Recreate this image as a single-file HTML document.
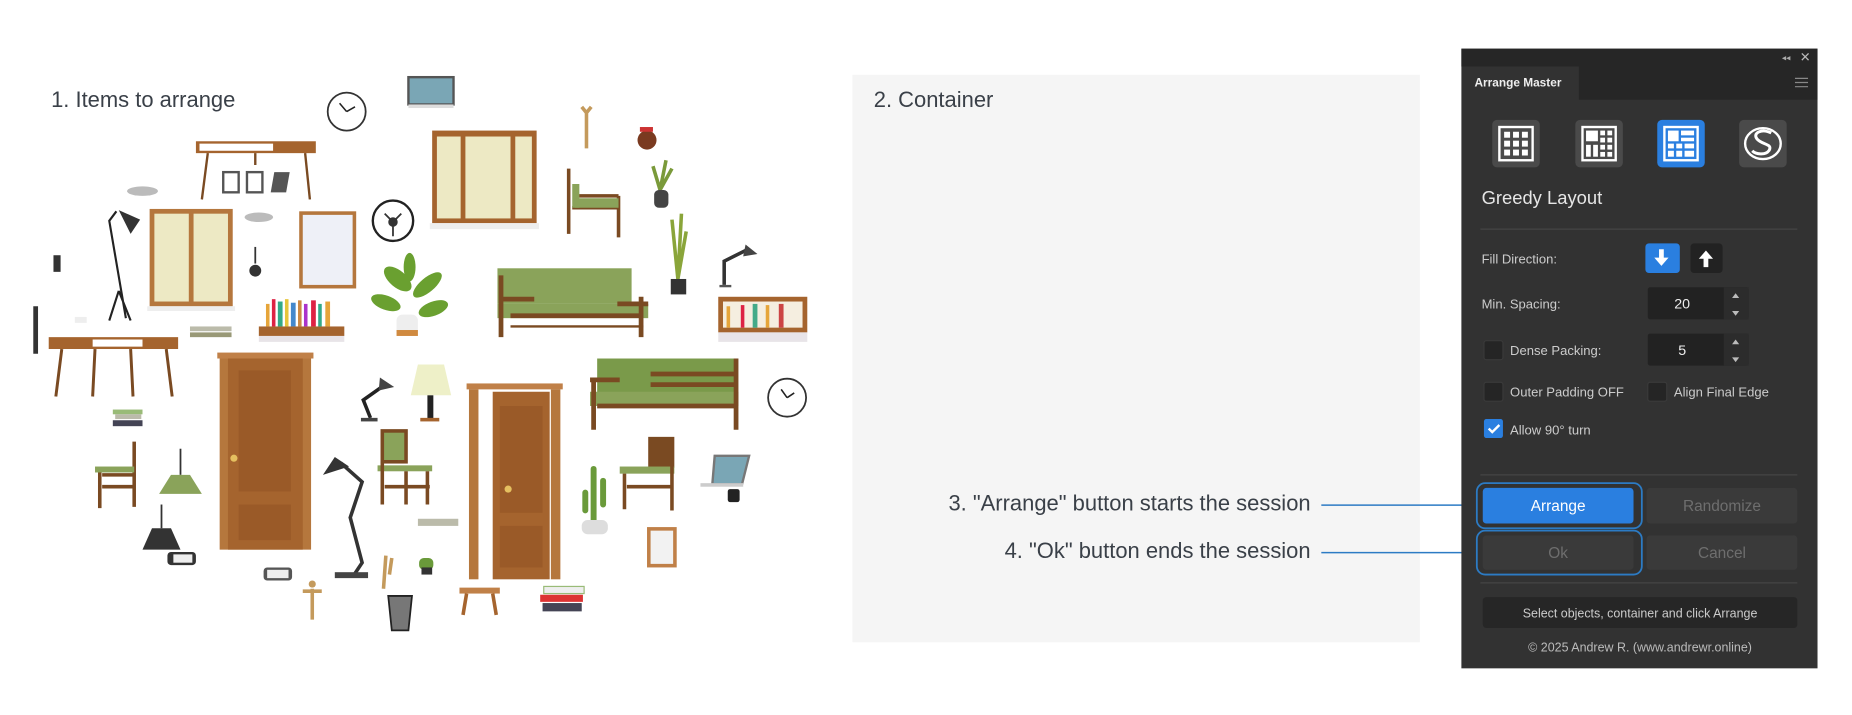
<!DOCTYPE html>
<html><head><meta charset="utf-8"><style>
html,body{margin:0;padding:0;background:#fff;width:1852px;height:715px;overflow:hidden}
svg{display:block}
text{font-family:"Liberation Sans",sans-serif}
</style></head><body>
<svg width="1852" height="715" viewBox="0 0 1560 602.3" xmlns="http://www.w3.org/2000/svg">
<rect width="1560" height="603" fill="#fff"/>
<!-- container -->
<rect x="718" y="63" width="478" height="478" fill="#f5f5f5"/>
<text x="43" y="90" font-size="18.5" fill="#3a4048">1. Items to arrange</text>
<text x="736" y="90" font-size="18.5" fill="#3a4048">2. Container</text>
<text x="1104" y="430" font-size="18.5" fill="#3a4048" text-anchor="end">3. "Arrange" button starts the session</text>
<text x="1104" y="470" font-size="18.5" fill="#3a4048" text-anchor="end">4. "Ok" button ends the session</text>
<line x1="1113" y1="425.5" x2="1244" y2="425.5" stroke="#2c7bc4" stroke-width="1.3"/>
<line x1="1113" y1="465.5" x2="1244" y2="465.5" stroke="#2c7bc4" stroke-width="1.3"/>

<!-- furniture -->
<g>
<circle cx="292" cy="94" r="16" fill="#fff" stroke="#333" stroke-width="1.5"/><path d="M292 94 l-6 -7 M292 94 l7 -4" stroke="#222" stroke-width="1.3"/>
<rect x="344" y="65" width="38" height="23" fill="#7aa6b5" stroke="#555" stroke-width="2"/><rect x="344" y="88" width="38" height="3" fill="#ddd"/>
<rect x="165" y="119" width="101" height="10" fill="#a5642e"/><rect x="168" y="121" width="62" height="6" fill="#fff"/>
<path d="M175 129 l-5 39 M257 129 l4 39 M215 129 v10" stroke="#7a4a22" stroke-width="2"/>
<rect x="188" y="145" width="13" height="17" fill="#fff" stroke="#555" stroke-width="2"/><rect x="208" y="145" width="13" height="17" fill="#fff" stroke="#555" stroke-width="2"/><path d="M231 145 h13 l-3 17 h-13z" fill="#555"/>
<ellipse cx="120" cy="161" rx="13" ry="4" fill="#bbb"/><ellipse cx="218" cy="183" rx="12" ry="4" fill="#bbb"/>
<path d="M98 178 l-6 8 l14 82 M100 245 l-8 25 M100 245 l10 25" stroke="#222" stroke-width="1.8" fill="none"/><path d="M100 177 l18 8 l-8 12 z" fill="#333"/>
<rect x="126" y="176" width="70" height="82" fill="#b5773d"/><rect x="130" y="180" width="29" height="74" fill="#ede9c4"/><rect x="163" y="180" width="29" height="74" fill="#ede9c4"/><rect x="124" y="258" width="74" height="4" fill="#eee"/>
<path d="M215 208 v14" stroke="#333" stroke-width="1.5"/><circle cx="215" cy="228" r="5" fill="#333"/>
<rect x="252" y="178" width="48" height="65" fill="#b5773d"/><rect x="255" y="181" width="42" height="59" fill="#eef0f7"/>
<circle cx="331" cy="186" r="17" fill="#fff" stroke="#222" stroke-width="2"/><circle cx="331" cy="187" r="4" fill="#333"/><path d="M331 187 l-7 -7 M331 187 l7 -7 M331 187 v12" stroke="#333" stroke-width="1.5"/>
<rect x="364" y="110" width="88" height="78" fill="#a5642e"/><rect x="368" y="115" width="20" height="69" fill="#ede9c4"/><rect x="392" y="115" width="38" height="69" fill="#ede9c4"/><rect x="434" y="115" width="14" height="69" fill="#ede9c4"/><rect x="362" y="188" width="92" height="5" fill="#eee"/>
<path d="M494 95 v30 M490 90 l4 5 l4 -5" stroke="#c49a5c" stroke-width="3" fill="none"/>
<circle cx="545" cy="118" r="8" fill="#7a3a20"/><rect x="539" y="107" width="11" height="4" fill="#c33"/>
<path d="M479 142 v55 M484 165 h37 M521 165 v35 M482 175 h40" stroke="#7a4a22" stroke-width="3" fill="none"/><rect x="482" y="155" width="6" height="20" fill="#8aa35a"/><rect x="484" y="167" width="37" height="8" fill="#8aa35a"/>
<path d="M556 160 l-6 -20 M556 160 l5 -25 M556 160 l10 -18" stroke="#7a9a3a" stroke-width="3"/><rect x="551" y="160" width="12" height="15" rx="4" fill="#444"/>
<path d="M571 235 l-5 -50 M571 235 l3 -55 M571 235 l7 -40" stroke="#8aa53a" stroke-width="3"/><rect x="565" y="235" width="13" height="13" fill="#333"/>
<path d="M610 240 v-20 l20 -10" stroke="#333" stroke-width="3" fill="none"/><path d="M628 206 l10 8 l-12 2z" fill="#444"/><rect x="606" y="240" width="10" height="2" fill="#555"/>
<rect x="605" y="250" width="75" height="30" fill="#a5642e"/><rect x="609" y="254" width="67" height="22" fill="#f5eee0"/><g fill="#e6a53a"><rect x="612" y="258" width="3" height="18"/><rect x="624" y="257" width="3" height="19" fill="#d24"/><rect x="634" y="256" width="4" height="20" fill="#4a8"/><rect x="645" y="257" width="3" height="19"/><rect x="656" y="256" width="4" height="20" fill="#c44"/></g><rect x="605" y="280" width="75" height="8" fill="#e8e4e8"/>
<g fill="#6aa030"><ellipse cx="335" cy="235" rx="14" ry="7" transform="rotate(40 335 235)"/><ellipse cx="360" cy="240" rx="15" ry="6" transform="rotate(-40 360 240)"/><ellipse cx="325" cy="255" rx="13" ry="6" transform="rotate(20 325 255)"/><ellipse cx="365" cy="260" rx="13" ry="6" transform="rotate(-20 365 260)"/><ellipse cx="345" cy="225" rx="5" ry="12"/></g><rect x="334" y="265" width="18" height="18" rx="5" fill="#eee"/><rect x="334" y="278" width="18" height="5" fill="#d08a40"/>
<rect x="419" y="226" width="113" height="30" fill="#8aa35a"/><rect x="419" y="256" width="127" height="12" fill="#8aa35a"/><path d="M422 232 v52 M540 250 v34 M430 266 h110 M420 252 h30 M520 256 h26" stroke="#7a4a22" stroke-width="4" fill="none"/><path d="M430 275 h112" stroke="#7a4a22" stroke-width="2"/>
<rect x="218" y="275" width="72" height="8" fill="#a5642e"/><rect x="218" y="283" width="72" height="5" fill="#e8e4e8"/><g><rect x="224" y="256" width="3" height="19" fill="#e6a53a"/><rect x="229" y="252" width="3" height="23" fill="#d24"/><rect x="234" y="254" width="4" height="21" fill="#3a8"/><rect x="240" y="252" width="3" height="23" fill="#e6c53a"/><rect x="245" y="255" width="4" height="20" fill="#48c"/><rect x="251" y="253" width="3" height="22" fill="#c84"/><rect x="256" y="256" width="3" height="19" fill="#a3c"/><rect x="262" y="253" width="4" height="22" fill="#d24"/><rect x="268" y="256" width="3" height="19" fill="#3a8"/><rect x="274" y="254" width="4" height="21" fill="#e6a53a"/></g>
<rect x="160" y="275" width="35" height="4" fill="#bba"/><rect x="160" y="280" width="35" height="4" fill="#997"/>
<rect x="45" y="215" width="6" height="14" fill="#333"/>
<path d="M30 258 v40" stroke="#333" stroke-width="4"/>
<rect x="63" y="267" width="10" height="5" fill="#eee"/>
<rect x="41" y="284" width="109" height="10" fill="#a5642e"/><rect x="78" y="286" width="42" height="6" fill="#fff"/><path d="M52 294 l-5 40 M80 294 l-2 40 M110 294 l2 40 M140 294 l5 40" stroke="#7a4a22" stroke-width="2.5"/>
<rect x="183" y="297" width="81" height="5" fill="#c08048"/><rect x="185" y="302" width="77" height="161" fill="#b5773d"/><rect x="192" y="302" width="63" height="161" fill="#a5642e"/><rect x="201" y="312" width="44" height="102" fill="#9a5a28"/><rect x="201" y="425" width="44" height="30" fill="#9a5a28"/><circle cx="197" cy="386" r="3" fill="#e5c060"/>
<rect x="393" y="323" width="81" height="5" fill="#c08048"/><rect x="395" y="328" width="8" height="160" fill="#b5773d"/><rect x="464" y="328" width="8" height="160" fill="#b5773d"/><rect x="415" y="330" width="48" height="158" fill="#a5642e"/><rect x="421" y="342" width="36" height="90" fill="#9a5a28"/><rect x="421" y="443" width="36" height="35" fill="#9a5a28"/><circle cx="428" cy="412" r="3" fill="#e5c060"/>
<path d="M312 352 l-6 -15 l17 -12" stroke="#222" stroke-width="3" fill="none"/><path d="M320 318 l12 8 l-13 3z" fill="#444"/><rect x="304" y="352" width="14" height="3" fill="#444"/>
<path d="M352 307 h22 l6 26 h-34z" fill="#eef0c8"/><rect x="360" y="333" width="5" height="20" fill="#222"/><rect x="354" y="352" width="16" height="3" fill="#a5642e"/>
<rect x="503" y="302" width="117" height="40" fill="#7a9a4a"/><rect x="497" y="330" width="125" height="12" fill="#8aa35a"/><path d="M500 320 v42 M620 302 v60 M503 342 h117 M497 320 h25 M548 315 h72 M548 324 h72" stroke="#7a4a22" stroke-width="4" fill="none"/>
<circle cx="663" cy="335" r="16" fill="#fff" stroke="#333" stroke-width="1.5"/><path d="M663 335 l-5 -7 M663 335 l6 -4" stroke="#222" stroke-width="1.3"/>
<rect x="95" y="345" width="25" height="4" fill="#9b7"/><rect x="97" y="349" width="22" height="4" fill="#bba"/><rect x="95" y="354" width="25" height="5" fill="#445"/>
<path d="M84 395 v33 M113 372 v55 M86 410 h27 M86 400 h27" stroke="#7a4a22" stroke-width="3"/><rect x="80" y="393" width="33" height="5" fill="#8aa35a"/>
<path d="M152 378 v22" stroke="#333" stroke-width="1.5"/><path d="M144 400 h16 l10 16 h-36z" fill="#8aa35a"/>
<path d="M136 425 v20" stroke="#333" stroke-width="1.5"/><path d="M128 445 h16 l8 18 h-32z" fill="#333"/>
<rect x="141" y="465" width="24" height="11" rx="3" fill="#333"/><rect x="146" y="467" width="16" height="7" fill="#eee"/>
<rect x="322" y="363" width="20" height="26" fill="#8aa35a" stroke="#7a4a22" stroke-width="3"/><rect x="318" y="392" width="46" height="5" fill="#8aa35a"/><path d="M322 389 v36 M342 397 v28 M360 397 v28 M324 410 h38" stroke="#7a4a22" stroke-width="3"/>
<path d="M287 390 l18 16 l-10 30 l10 38 l-6 9" stroke="#333" stroke-width="3" fill="none"/><path d="M272 400 l10 -15 l12 8z" fill="#333"/><rect x="282" y="482" width="28" height="5" fill="#444"/>
<path d="M500 445 v-50 M493 430 v-15 M508 425 v-20" stroke="#6a9a3a" stroke-width="5" stroke-linecap="round"/><rect x="490" y="438" width="22" height="12" rx="5" fill="#ddd"/>
<rect x="546" y="368" width="22" height="26" fill="#7a4a22"/><rect x="522" y="393" width="46" height="6" fill="#8aa35a"/><path d="M526 399 v30 M566 372 v58 M528 410 h38" stroke="#7a4a22" stroke-width="3"/>
<path d="M602 384 h29 l-6 24 h-25z" fill="#7aa6b5" stroke="#777" stroke-width="2"/><rect x="590" y="407" width="36" height="3" fill="#ccc"/><rect x="613" y="412" width="10" height="11" rx="2" fill="#222"/>
<rect x="545" y="444" width="25" height="34" fill="#c08048"/><rect x="548" y="447" width="19" height="28" fill="#f2f2f2"/>
<rect x="352" y="437" width="34" height="6" fill="#bba"/>
<rect x="222" y="478" width="24" height="11" rx="3" fill="#555"/><rect x="225" y="480" width="18" height="7" fill="#eee"/>
<path d="M263 496 v26 M255 498 h16" stroke="#c49a5c" stroke-width="3"/><circle cx="263" cy="492" r="3" fill="#c49a5c"/>
<path d="M325 468 l-2 28 M330 470 l-2 14" stroke="#c49a5c" stroke-width="3"/>
<rect x="353" y="470" width="12" height="10" rx="4" fill="#6a9a3a"/><rect x="355" y="478" width="9" height="6" fill="#333"/>
<path d="M327 502 h20 l-3 29 h-14z" fill="#777" stroke="#222" stroke-width="1.5"/>
<rect x="387" y="495" width="34" height="5" fill="#c08048"/><path d="M393 500 l-3 18 M415 500 l3 18" stroke="#a5642e" stroke-width="3"/>
<rect x="458" y="494" width="34" height="6" fill="#eee" stroke="#9b7"/><rect x="455" y="501" width="36" height="6" fill="#d33"/><rect x="457" y="508" width="33" height="7" fill="#445"/>
</g>

<!-- panel -->
<rect x="1231" y="41" width="300" height="522" fill="#323232"/>
<rect x="1231" y="41" width="300" height="15" fill="#262626"/>
<rect x="1330" y="56" width="201" height="28" fill="#262626"/>
<text x="1501" y="51" font-size="7" fill="#aaa">◂◂</text>
<text x="1516" y="52" font-size="11" fill="#bbb">✕</text>
<text x="1242" y="73" font-size="10" font-weight="bold" fill="#eee">Arrange Master</text>
<path d="M1512 66 h11 M1512 69.5 h11 M1512 73 h11" stroke="#888" stroke-width="1"/>
<g>
<rect x="1257" y="101" width="40" height="40" rx="4" fill="#4a4a4a"/>
<rect x="1327" y="101" width="40" height="40" rx="4" fill="#4a4a4a"/>
<rect x="1396" y="101" width="40" height="40" rx="4" fill="#2a7fe0"/>
<rect x="1465" y="101" width="40" height="40" rx="4" fill="#4a4a4a"/>
<rect x="1263" y="107" width="28" height="28" fill="none" stroke="#fff" stroke-width="2"/>
<g fill="#fff"><rect x="1267" y="111" width="5" height="5"/><rect x="1274.5" y="111" width="5" height="5"/><rect x="1282" y="111" width="5" height="5"/><rect x="1267" y="118.5" width="5" height="5"/><rect x="1274.5" y="118.5" width="5" height="5"/><rect x="1282" y="118.5" width="5" height="5"/><rect x="1267" y="126" width="5" height="5"/><rect x="1274.5" y="126" width="5" height="5"/><rect x="1282" y="126" width="5" height="5"/></g>
<rect x="1333" y="107" width="28" height="28" fill="none" stroke="#fff" stroke-width="2"/>
<g fill="#fff"><rect x="1336" y="110" width="10" height="9"/><rect x="1348" y="110" width="4" height="4"/><rect x="1354" y="110" width="4" height="4"/><rect x="1348" y="116" width="4" height="4"/><rect x="1354" y="116" width="4" height="4"/><rect x="1336" y="122" width="4" height="10"/><rect x="1342" y="122" width="4" height="10"/><rect x="1348" y="122" width="4" height="4"/><rect x="1354" y="122" width="4" height="4"/><rect x="1348" y="128" width="4" height="4"/><rect x="1354" y="128" width="4" height="4"/></g>
<rect x="1402" y="107" width="28" height="28" fill="none" stroke="#fff" stroke-width="2"/>
<g fill="#fff"><rect x="1405" y="110" width="9" height="9"/><rect x="1416" y="110" width="11" height="4"/><rect x="1416" y="116" width="11" height="3"/><rect x="1405" y="121" width="5" height="4"/><rect x="1412" y="121" width="5" height="4"/><rect x="1419" y="121" width="8" height="4"/><rect x="1405" y="127" width="5" height="5"/><rect x="1412" y="127" width="5" height="5"/><rect x="1419" y="127" width="8" height="5"/></g>
<ellipse cx="1485" cy="121" rx="15" ry="13" fill="none" stroke="#fff" stroke-width="2"/>
<path d="M1492 112 c-8 -4 -16 0 -12 5 c4 5 14 4 10 10 c-3 4 -11 3 -14 0" stroke="#fff" stroke-width="2.5" fill="none"/>
</g>
<text x="1248" y="172" font-size="15.5" fill="#e6e6e6">Greedy Layout</text>
<line x1="1247" y1="193" x2="1514" y2="193" stroke="#444" stroke-width="1"/>
<text x="1248" y="222" font-size="11" fill="#ccc">Fill Direction:</text>
<rect x="1386" y="205" width="29" height="25" rx="3" fill="#2a7fe0"/>
<path d="M1397.5 210 h4 v7 h4 l-6 7 l-6 -7 h4z" fill="#fff"/>
<rect x="1424" y="205" width="27" height="25" rx="3" fill="#222"/>
<path d="M1435 225 h4 v-7 h4 l-6 -7 l-6 7 h4z" fill="#fff"/>
<text x="1248" y="260" font-size="11" fill="#ccc">Min. Spacing:</text>
<rect x="1388" y="242" width="85" height="27" rx="2" fill="#222"/><rect x="1452" y="242" width="21" height="27" fill="#2c2c2c"/>
<text x="1417" y="260" font-size="12" fill="#eee" text-anchor="middle">20</text>
<path d="M1459 251 l3 -4 l3 4z M1459 262 l3 4 l3 -4z" fill="#bbb"/>
<rect x="1250" y="287" width="16" height="16" rx="2" fill="#252525" stroke="#3a3a3a"/>
<text x="1272" y="299" font-size="11" fill="#ccc">Dense Packing:</text>
<rect x="1388" y="281" width="85" height="27" rx="2" fill="#222"/><rect x="1452" y="281" width="21" height="27" fill="#2c2c2c"/>
<text x="1417" y="299" font-size="12" fill="#eee" text-anchor="middle">5</text>
<path d="M1459 290 l3 -4 l3 4z M1459 301 l3 4 l3 -4z" fill="#bbb"/>
<rect x="1250" y="322" width="16" height="16" rx="2" fill="#252525" stroke="#3a3a3a"/>
<text x="1272" y="334" font-size="11" fill="#ccc">Outer Padding OFF</text>
<rect x="1388" y="322" width="16" height="16" rx="2" fill="#252525" stroke="#3a3a3a"/>
<text x="1410" y="334" font-size="11" fill="#ccc">Align Final Edge</text>
<rect x="1250" y="353" width="16" height="16" rx="2" fill="#2a7fe0"/>
<path d="M1254 361 l3 3 l6 -6" stroke="#fff" stroke-width="2" fill="none"/>
<text x="1272" y="366" font-size="11" fill="#ccc">Allow 90° turn</text>
<line x1="1247" y1="400" x2="1514" y2="400" stroke="#444"/>
<rect x="1249" y="411" width="127" height="30" rx="3" fill="#2a7fe0"/>
<text x="1312.5" y="430.5" font-size="13" fill="#fff" text-anchor="middle">Arrange</text>
<rect x="1387" y="411" width="127" height="30" rx="3" fill="#3a3a3a"/>
<text x="1450.5" y="430.5" font-size="13" fill="#6e6e6e" text-anchor="middle">Randomize</text>
<rect x="1249" y="451" width="127" height="29" rx="3" fill="#3a3a3a"/>
<text x="1312.5" y="470" font-size="13" fill="#6e6e6e" text-anchor="middle">Ok</text>
<rect x="1387" y="451" width="127" height="29" rx="3" fill="#3a3a3a"/>
<text x="1450.5" y="470" font-size="13" fill="#6e6e6e" text-anchor="middle">Cancel</text>
<rect x="1244" y="407" width="139" height="38" rx="7" fill="none" stroke="#2c7bc4" stroke-width="1.5"/>
<rect x="1244" y="447" width="139" height="37" rx="7" fill="none" stroke="#2c7bc4" stroke-width="1.5"/>
<line x1="1247" y1="491" x2="1514" y2="491" stroke="#444"/>
<rect x="1249" y="503" width="265" height="26" rx="3" fill="#262626"/>
<text x="1381.5" y="520" font-size="10.5" fill="#ccc" text-anchor="middle">Select objects, container and click Arrange</text>
<text x="1381.5" y="549" font-size="10.5" fill="#bbb" text-anchor="middle">© 2025 Andrew R. (www.andrewr.online)</text>
</svg>
</body></html>
